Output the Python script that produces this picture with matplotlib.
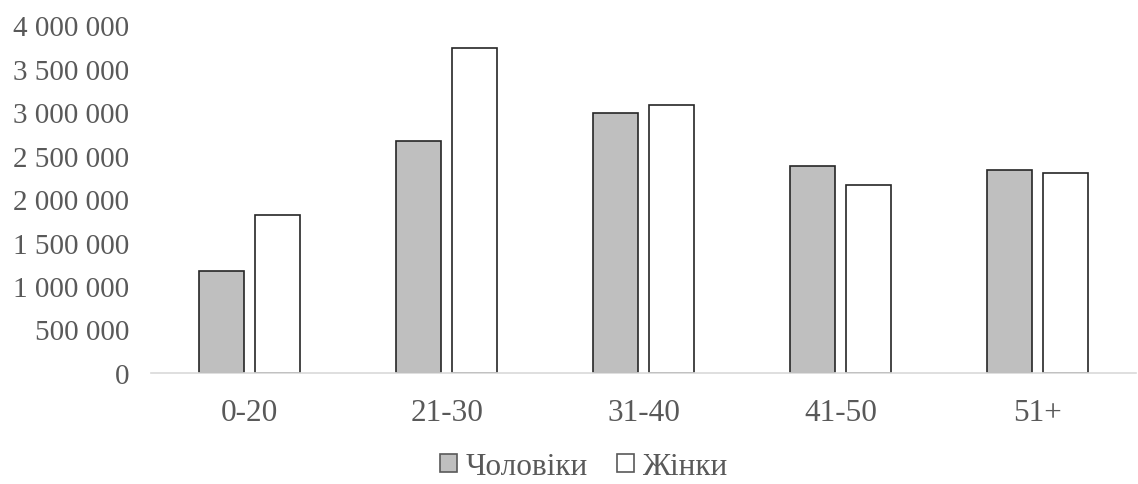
import matplotlib
matplotlib.use("Agg")
import matplotlib.pyplot as plt
import numpy as np
from matplotlib.ticker import FuncFormatter

# Data
groups = ["0-20", "21-30", "31-40", "41-50", "51+"]
men = [1170000, 2670000, 2990000, 2385000, 2330000]
women = [1815000, 3740000, 3085000, 2165000, 2305000]
series_names = ["Чоловіки", "Жінки"]

plt.rcParams['font.family'] = ['Liberation Serif', 'DejaVu Serif']

fig = plt.figure(figsize=(11.38, 4.85), dpi=100)
ax = fig.add_axes([0.133, 0.229, 0.865, 0.717])

x = np.arange(len(groups))
w = 0.23
off = 0.142
ax.bar(x - off, men, w, color='#bfbfbf', edgecolor='#262626', linewidth=1.2,
       label=series_names[0], zorder=2)
ax.bar(x + off, women, w, color='white', edgecolor='#262626', linewidth=1.2,
       label=series_names[1], zorder=2)

ax.set_xlim(-0.5, len(groups) - 0.5)
ax.set_ylim(0, 4000000)
ax.set_yticks(np.arange(0, 4000001, 500000))
ax.yaxis.set_major_formatter(FuncFormatter(lambda v, p: f"{int(v):,}".replace(",", " ")))
ax.set_xticks(x)
ax.set_xticklabels(groups)

for s in ['top', 'right', 'left']:
    ax.spines[s].set_visible(False)
ax.spines['bottom'].set_color('#d9d9d9')
ax.spines['bottom'].set_linewidth(1.2)
ax.tick_params(axis='both', length=0, colors='#595959')
ax.tick_params(axis='y', labelsize=21, pad=16)
ax.tick_params(axis='x', labelsize=22.5, pad=18)

leg = fig.legend(loc='lower center', bbox_to_anchor=(0.513, -0.052), ncol=2,
                 frameon=False, fontsize=22.5, handlelength=0.55, handleheight=0.55,
                 handletextpad=0.25, columnspacing=0.95)
for t in leg.get_texts():
    t.set_color('#595959')
for h in leg.legend_handles:
    h.set_edgecolor('#595959')

fig.savefig("out.png", dpi=100)
